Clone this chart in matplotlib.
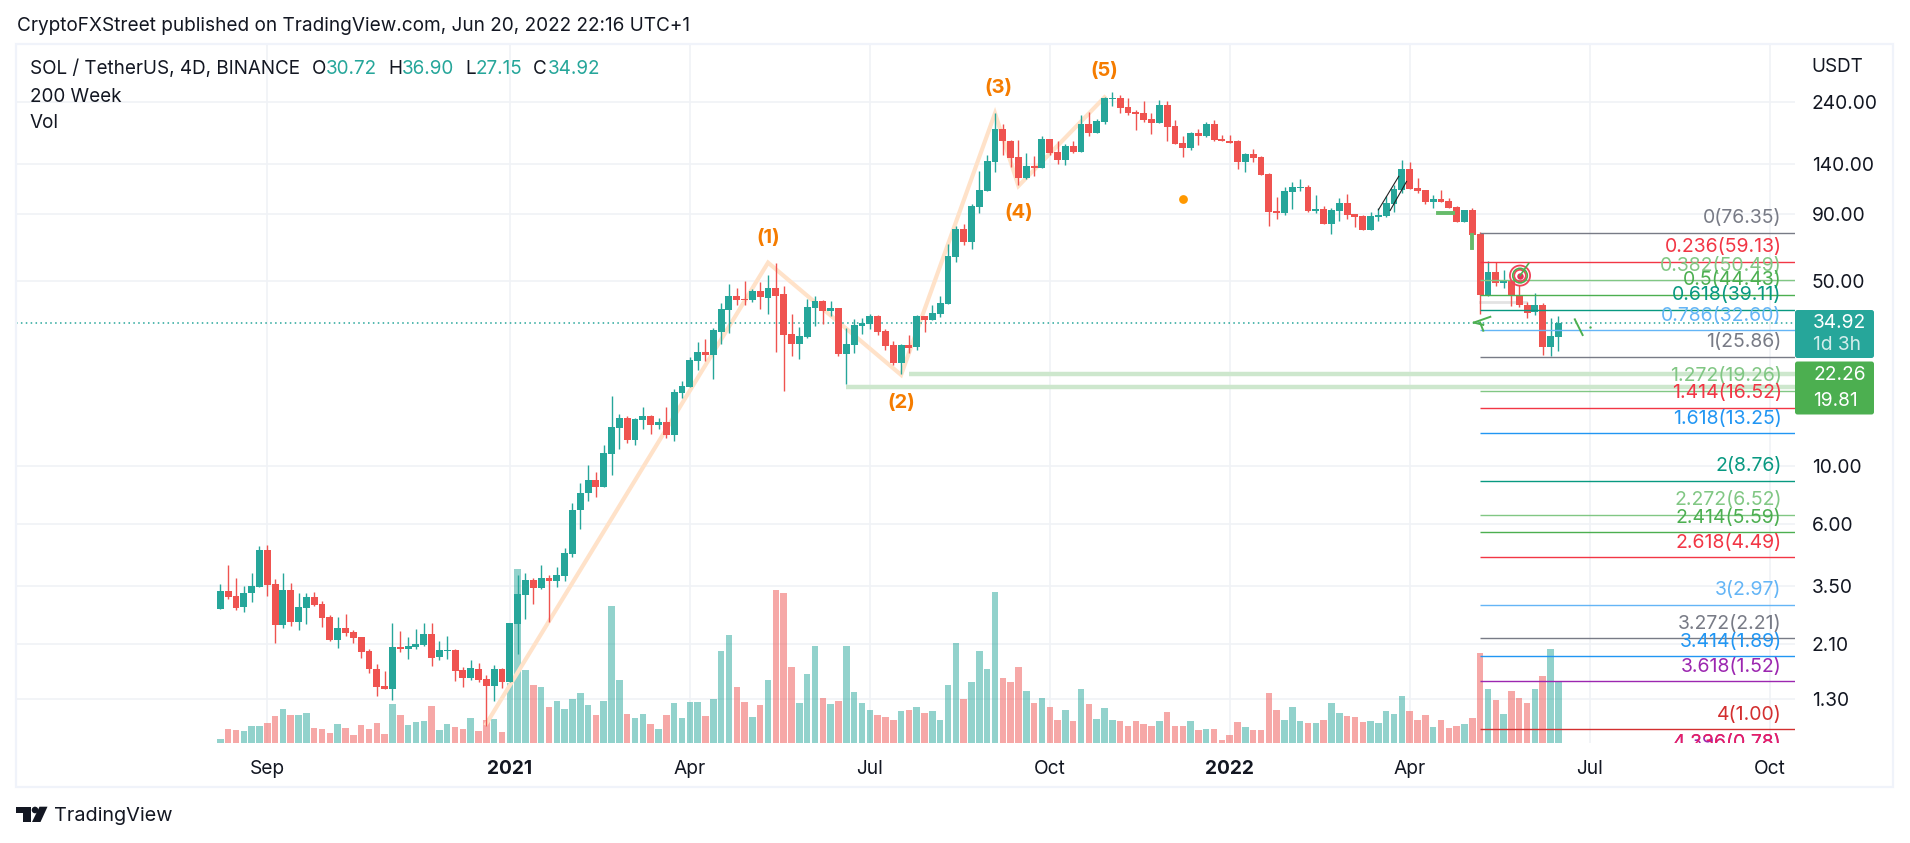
import numpy as np
import matplotlib.pyplot as plt
from matplotlib.patches import Rectangle, Circle, Polygon, FancyBboxPatch
from matplotlib.transforms import blended_transform_factory

plt.rcParams['font.family'] = ['Inter', 'DejaVu Sans']

# ---------------------------------------------------------
# Data (4D candles, oldest first)
# ---------------------------------------------------------
opens = [2.87, 3.35, 3.21, 2.92, 3.29, 3.47, 4.79, 3.57, 2.49, 3.38,
         2.55, 2.89, 3.18, 2.99, 2.67, 2.18, 2.42, 2.34, 2.24, 1.98,
         1.69, 1.46, 1.42, 2.05, 2.02, 2.05, 2.09, 2.30, 1.88, 1.98,
         2.00, 1.68, 1.57, 1.69, 1.55, 1.46, 1.69, 1.51, 2.51, 3.24,
         3.69, 3.44, 3.75, 3.66, 3.80, 4.62, 6.76, 7.85, 8.84, 8.30,
         11.1, 13.9, 15.2, 12.5, 14.9, 15.4, 14.3, 14.6, 13.1, 18.9,
         19.8, 25.0, 27.0, 26.3, 32.2, 38.9, 43.9, 42.9, 42.5, 46.0,
         43.2, 47.2, 44.6, 31.6, 29.0, 30.8, 39.6, 42.2, 38.6, 39.6,
         26.5, 28.8, 33.9, 34.5, 37.0, 32.4, 28.7, 24.6, 28.7, 28.2,
         37.0, 35.7, 37.6, 41.1, 62.0, 79.0, 70.6, 96.0, 110.4, 142.0,
         189.5, 170, 148.4, 123.4, 137.2, 135, 173.6, 155, 144.5, 163,
         155, 197.7, 183, 201, 246, 247.6, 229, 219, 217, 206.7,
         199.5, 233.5, 194, 168, 161, 183, 178, 197.7, 173.6, 170,
         169.8, 142, 152.2, 148.4, 128, 92.6, 91, 109.3, 113, 113.9,
         92.6, 94.2, 82.7, 92.6, 99.2, 90.2, 88.7, 78.4, 87.9, 88.7,
         98.4, 111.2, 133.6, 113, 111.2, 100.2, 102.8, 101, 95.8, 84.2,
         93.3, 75.9, 44.4, 54.4, 49.3, 50, 44.4, 40.7, 38.4, 40.7, 28.3, 30.72]
highs = [3.57, 4.20, 3.75, 3.51, 3.91, 4.97, 5.01, 3.72, 3.91, 3.60,
         3.29, 3.29, 3.32, 3.07, 2.71, 2.67, 2.74, 2.38, 2.24, 2.02,
         1.77, 1.66, 2.53, 2.36, 2.24, 2.40, 2.53, 2.53, 2.16, 2.26,
         2.02, 1.73, 1.83, 1.78, 1.60, 1.75, 1.71, 2.53, 3.84, 3.91,
         3.75, 4.20, 3.84, 4.13, 4.88, 7.22, 8.58, 10.07, 9.48, 12.0,
         18.4, 15.7, 15.4, 15.2, 16.7, 15.6, 15.2, 16.7, 19.6, 21.0,
         25.8, 29.4, 30.3, 33.2, 41.5, 48.9, 47.2, 50.2, 46.7, 49.8,
         52.8, 58.9, 48.0, 37.6, 33.5, 42.9, 44.2, 42.5, 42.1, 39.6,
         33.2, 36.0, 36.3, 37.5, 37.4, 33.1, 29.6, 28.9, 31.3, 37.4,
         37.0, 40.7, 44.0, 69.2, 81.1, 82.7, 98.5, 131.2, 150.7, 217,
         197.7, 172, 172, 153.6, 150, 178.7, 173.6, 169.8, 166.5, 169.8,
         214.4, 219.4, 207, 250, 261, 255, 247.6, 223.6, 241.5, 217,
         244, 241, 204.9, 178.7, 184.5, 189.5, 201, 204.9, 180, 180,
         172, 153.6, 159, 149.7, 129, 104.7, 113.9, 119.2, 122.4, 115.9,
         106.5, 96.8, 95, 103.7, 107.4, 90.2, 89.5, 91.8, 95, 105.6,
         115.9, 144.5, 142, 123.9, 111.2, 106.5, 111.2, 103.7, 96.6, 93.3,
         95, 77, 59.8, 59.1, 55.3, 50, 48.4, 41.9, 45.1, 41.4, 36.4, 36.90]
lows = [2.87, 3.13, 2.84, 2.79, 3.05, 3.47, 3.21, 2.13, 2.42, 2.47,
        2.38, 2.51, 2.94, 2.45, 2.16, 2.04, 2.26, 2.13, 1.86, 1.63,
        1.34, 1.42, 1.29, 1.96, 1.85, 2.02, 2.07, 1.74, 1.83, 1.85,
        1.53, 1.45, 1.54, 1.51, 1.03, 1.28, 1.44, 1.51, 1.93, 2.62,
        2.99, 3.41, 2.55, 3.47, 3.66, 4.51, 5.76, 7.37, 7.63, 8.30,
        9.24, 11.6, 12.2, 12.0, 13.8, 13.2, 13.8, 12.7, 12.4, 18.1,
        19.8, 23.1, 25.0, 21.3, 29.0, 31.8, 40.7, 40.7, 41.8, 39.2,
        37.6, 26.9, 19.2, 26.0, 25.4, 30.5, 33.9, 34.6, 36.9, 26.0,
        20.4, 26.7, 31.6, 33.0, 31.2, 27.4, 24.1, 22.3, 26.8, 27.4,
        32.2, 35.7, 36.6, 41.1, 59.3, 68.7, 66.5, 91, 110.4, 129.5,
        151, 135.8, 116, 122.4, 126, 135, 150.7, 140, 138.2, 153.6,
        155, 178, 183, 197.7, 231.5, 217, 214, 187.8, 201, 181,
        199.5, 169.8, 166.5, 148.4, 157.7, 164, 176, 169.8, 169.8, 168,
        133.6, 130, 142, 127, 81.1, 86.4, 89.5, 94.2, 110.2, 91.8,
        91, 82.7, 75.6, 84.9, 86.4, 80.5, 78.4, 78.4, 84.9, 87.9,
        92, 108, 112.2, 108.5, 98.5, 95, 100.2, 95, 83.7, 83.7,
        75, 37.7, 44.1, 48.2, 47, 40.5, 40, 36.4, 37.2, 26.4, 26, 27.15]
closes = [3.35, 3.18, 2.89, 3.29, 3.51, 4.79, 3.54, 2.49, 3.38, 2.55,
          2.92, 3.18, 2.97, 2.64, 2.18, 2.42, 2.32, 2.22, 1.96, 1.69,
          1.45, 1.42, 2.05, 2.02, 2.07, 2.11, 2.30, 1.86, 2.00, 2.00,
          1.66, 1.57, 1.71, 1.54, 1.46, 1.69, 1.51, 2.53, 3.27, 3.69,
          3.44, 3.75, 3.66, 3.84, 4.67, 6.79, 7.90, 8.84, 8.30, 11.2,
          14.0, 15.2, 12.5, 15.0, 15.4, 14.3, 14.6, 13.1, 19.0, 20.0,
          25.2, 27.0, 26.3, 32.7, 39.2, 43.9, 42.5, 42.5, 46.0, 43.5,
          47.2, 44.2, 31.2, 29.0, 31.0, 40.0, 42.2, 38.6, 39.6, 26.5,
          29.0, 34.2, 34.8, 37.0, 32.2, 28.4, 24.6, 28.7, 28.0, 37.0,
          35.7, 38.0, 41.5, 62.4, 79, 70.6, 96.8, 111.2, 143.3, 189.5,
          169.8, 147, 123.4, 137.2, 135, 173.6, 153.6, 144.5, 163, 155,
          197.7, 183, 203, 247.6, 247.6, 226.7, 217, 215, 204.9, 199.5,
          233.5, 192, 166.5, 161, 183, 178, 197.7, 172, 169.8, 168,
          142, 152.2, 147, 127, 91.8, 91, 110.2, 113.9, 113.9, 92.6,
          94.2, 82.7, 93.4, 99.2, 89.5, 87.9, 78.4, 88.7, 89.5, 99.2,
          112.2, 133.6, 112.2, 110.4, 100.2, 102.8, 100.2, 95, 84.2, 93.3,
          75, 44.4, 54.4, 49.3, 50, 44.1, 40.7, 38.1, 40.7, 28.3, 31.1, 34.92]
# volume in arbitrary units, the axis has no scale
volumes = [12, 42, 39, 36, 51, 51, 60, 81, 102, 84,
           84, 90, 45, 42, 30, 57, 45, 24, 54, 42,
           60, 27, 117, 84, 54, 63, 66, 111, 39, 57,
           48, 42, 75, 36, 69, 72, 33, 180, 522, 219,
           174, 168, 108, 126, 102, 132, 150, 114, 84, 126,
           411, 189, 87, 75, 87, 57, 42, 84, 120, 75,
           123, 123, 81, 132, 276, 324, 168, 123, 78, 114,
           189, 459, 450, 228, 120, 207, 291, 135, 117, 126,
           291, 153, 120, 99, 84, 78, 69, 96, 99, 108,
           90, 96, 69, 174, 300, 132, 183, 276, 222, 453,
           195, 183, 228, 156, 120, 135, 108, 69, 99, 66,
           162, 117, 72, 105, 69, 66, 51, 66, 57, 51,
           66, 93, 51, 51, 66, 39, 42, 42, 9, 24,
           63, 48, 39, 39, 150, 99, 69, 108, 66, 60,
           60, 69, 120, 90, 81, 78, 63, 66, 60, 96,
           87, 141, 96, 69, 84, 48, 69, 45, 51, 57,
           75, 270, 162, 129, 87, 156, 135, 120, 162, 201, 282, 183]

price_ticks = [240, 140, 90, 50, 10, 6, 3.5, 2.1, 1.3]
price_tick_labels = ['240.00', '140.00', '90.00', '50.00', '10.00', '6.00', '3.50', '2.10', '1.30']
time_ticks = [6, 37, 60, 83, 106, 129, 152, 175, 198]
time_tick_labels = ['Sep', '2021', 'Apr', 'Jul', 'Oct', '2022', 'Apr', 'Jul', 'Oct']

# Fibonacci levels
fib_ratio = ['0', '0.236', '0.382', '0.5', '0.618', '0.786', '1', '1.272', '1.414', '1.618',
             '2', '2.272', '2.414', '2.618', '3', '3.272', '3.414', '3.618', '4', '4.396', '4.236']
fib_price = [76.35, 59.13, 50.49, 44.43, 39.11, 32.60, 25.86, 19.26, 16.52, 13.25,
             8.76, 6.52, 5.59, 4.49, 2.97, 2.21, 1.89, 1.52, 1.00, 0.78, 0.78]
fib_text = ['76.35', '59.13', '50.49', '44.43', '39.11', '32.60', '25.86', '19.26', '16.52', '13.25',
            '8.76', '6.52', '5.59', '4.49', '2.97', '2.21', '1.89', '1.52', '1.00', '0.78', '0.78']
fib_color = ['#787b86', '#f23645', '#81c784', '#4caf50', '#089981', '#64b5f6', '#787b86', '#81c784',
             '#f23645', '#2196f3', '#089981', '#81c784', '#4caf50', '#f23645', '#64b5f6', '#787b86',
             '#2196f3', '#9c27b0', '#d32f2f', '#9c27b0', '#e91e63']
fib_start = 161

# Elliott wave drawing
wave_bars = [34, 70, 87, 99, 102, 113]
wave_prices = [1.05, 58.9, 22.1, 217, 115.1, 249.7]
wave_labels = ['(1)', '(2)', '(3)', '(4)', '(5)']
wave_label_bars = [70, 87, 99.4, 102, 113]
wave_label_prices = [73.2, 17.33, 271.5, 90.6, 315]

levels = [22.26, 19.81]
level_starts = [88, 80]

last_close = 34.92

# ---------------------------------------------------------
# Layout, everything is placed on a 1910x843 pixel canvas
# ---------------------------------------------------------
W, H = 1910, 843
fig = plt.figure(figsize=(W / 100, H / 100), dpi=100, facecolor='white')
pane_l, pane_r, pane_t, pane_b = 16, 1795, 44, 743
ax = fig.add_axes([pane_l / W, 1 - pane_b / H, (pane_r - pane_l) / W, (pane_b - pane_t) / H])
ax.set_autoscale_on(False)

color_up = '#26a69a'
color_down = '#ef5350'
text_color = '#131722'
grid_color = '#f0f2f6'

bars = np.arange(len(opens))
o = np.array(opens)
c = np.array(closes)
is_up = c >= o
candle_colors = np.where(is_up, color_up, color_down)

ax.set_yscale('log')
x_left, x_right = -26.11, 201.24
ax.set_xlim(x_left, x_right)
ax.set_ylim(0.887, 397.7)

# Volume, own scale on the same axes
vol_top = 2097
vol_trans = blended_transform_factory(ax.transData, ax.transAxes)
ax.bar(bars, np.array(volumes) / vol_top, width=0.83, bottom=0, color=candle_colors,
       alpha=0.5, transform=vol_trans, zorder=2, linewidth=0)

# Wave and support bands under the candles
ax.plot(wave_bars, wave_prices, color='#ffe2c9', lw=3.0, zorder=2.5, solid_joinstyle='miter')
for lev, start in zip(levels, level_starts):
    ax.hlines(lev, start, x_right, color='#cde7cd', lw=3.2, zorder=2.5)

# Last price line
ax.axhline(last_close, color=color_up, lw=1.1, ls=(0, (1, 2.2)), zorder=2.6)

# Candles
ax.vlines(bars, lows, highs, color=candle_colors, lw=1.0, zorder=3)
ax.bar(bars, np.abs(c - o), bottom=np.minimum(o, c), width=0.88, color=candle_colors, zorder=3.1, linewidth=0)

# Fib levels
for ratio, price, txt, col in zip(fib_ratio, fib_price, fib_text, fib_color):
    ax.hlines(price, fib_start, x_right, color=col, lw=1.0, zorder=4)
    ax.annotate(f'{ratio}({txt})', (x_right, price), xytext=(-9.6, 10.6), textcoords='offset points',
                ha='right', va='center', color=col, fontsize=14.0, annotation_clip=False,
                clip_on=True, zorder=5)

# Small drawings on the chart
ax.plot([148, 150.6], [93.4, 125.2], color='#222222', lw=0.8, zorder=3.2)
ax.plot([149.5, 151.6], [92.9, 119.7], color='#222222', lw=0.8, zorder=3.2)
ax.plot([155.6, 157.5], [90.6, 90.6], color='#66bb6a', lw=2.8, zorder=3.2)
ax.plot([159.9, 159.9], [75.0, 67.1], color='#66bb6a', lw=2.8, zorder=3.2)
ax.plot([161, 166.9], [41.9, 41.9], color='#e3e3e3', lw=2.0, zorder=2.8)
ax.scatter([166.1], [52.6], s=210, facecolors='none', edgecolors='#f0455a', linewidths=1.3, zorder=4.5)
ax.scatter([166.1], [52.6], s=70, facecolors='none', edgecolors='#f0455a', linewidths=1.3, zorder=4.5)
ax.scatter([166.1], [52.6], s=22, color='#e53258', linewidths=0, zorder=4.6)
ax.scatter([166.1], [52.6], s=110, marker='o', facecolors='none', edgecolors='#4caf50', linewidths=1.2, zorder=4.6)
ax.plot([166.1, 167.2], [52.6, 58.5], color='#4caf50', lw=1.2, zorder=4.6)
ax.plot([160.2, 162.3], [34.9, 36.7], color='#4caf50', lw=1.4, zorder=4.6)
ax.plot([160.2, 161.4], [34.9, 34.2], color='#4caf50', lw=1.4, zorder=4.6)
ax.plot([161.0, 161.4], [34.9, 32.5], color='#4caf50', lw=1.4, zorder=4.6)
ax.plot([173.1, 174.1], [35.9, 31.3], color='#4caf50', lw=1.4, zorder=4.6)
ax.scatter([175.1], [33.6], s=3, color='#4caf50', linewidths=0, zorder=4.6)
ax.scatter([123], [102.4], s=40, color='#ff9800', linewidths=0, zorder=4.6)

for lab, bx, py in zip(wave_labels, wave_label_bars, wave_label_prices):
    ax.text(bx, py, lab, color='#f57c00', fontsize=14.5, fontweight='bold', ha='center', va='center', zorder=5)

# Axes and ticks
ax.minorticks_off()
ax.yaxis.tick_right()
ax.set_yticks(price_ticks)
ax.set_yticklabels(price_tick_labels)
ax.set_xticks(time_ticks)
ax.set_xticklabels(time_tick_labels)
ax.minorticks_off()
ax.tick_params(axis='y', length=0, pad=12, labelsize=13.8, labelcolor=text_color)
ax.tick_params(axis='x', length=0, pad=12, labelsize=13.8, labelcolor=text_color)
for label in ax.get_xticklabels():
    if label.get_text() in ('2021', '2022'):
        label.set_fontweight('bold')
ax.grid(True, color=grid_color, lw=1.2, zorder=0)
ax.set_axisbelow(True)
for spine in ax.spines.values():
    spine.set_visible(False)

# ---------------------------------------------------------
# Overlay in pixels: frame, legend text, price tags, logo
# ---------------------------------------------------------
over = fig.add_axes([0, 0, 1, 1], facecolor='none')
over.set_xlim(0, W)
over.set_ylim(H, 0)
over.axis('off')

over.add_patch(Rectangle((16, 44), 1877, 743, fill=False, edgecolor='#f0f3fa', lw=1.6))

over.text(17, 26, 'CryptoFXStreet published on TradingView.com, Jun 20, 2022 22:16 UTC+1',
          fontsize=13.7, color=text_color, va='center')
legend_parts = [(30, 'SOL / TetherUS, 4D, BINANCE', text_color), (312, 'O', text_color), (326, '30.72', color_up),
                (388, 'H', text_color), (402, '36.90', color_up), (465, 'L', text_color), (476, '27.15', color_up),
                (533, 'C', text_color), (548, '34.92', color_up)]
for px, txt, col in legend_parts:
    over.text(px, 69, txt, fontsize=13.6, color=col, va='center')
over.text(30, 96.5, '200 Week', fontsize=13.6, color=text_color, va='center')
over.text(30, 123.5, 'Vol', fontsize=13.6, color=text_color, va='center')
over.text(1811, 66.5, 'USDT', fontsize=13.6, color=text_color, va='center')

# price tags
over.add_patch(FancyBboxPatch((1795, 310), 79, 48, boxstyle='round,pad=0,rounding_size=2.5',
                              facecolor=color_up, edgecolor='none'))
over.add_patch(FancyBboxPatch((1795, 361.5), 79, 53, boxstyle='round,pad=0,rounding_size=2.5',
                              facecolor='#4caf50', edgecolor='none'))
over.text(1813, 323, '34.92', color='white', fontsize=13.8, va='center')
over.text(1813, 345.5, '1d 3h', color='#d3edeb', fontsize=13.8, va='center')
over.text(1813, 374.5, '22.26', color='white', fontsize=13.8, va='center')
over.text(1813, 401.5, '19.81', color='white', fontsize=13.8, va='center')

# logo
over.add_patch(Polygon([(16, 806.7), (30.5, 806.7), (30.5, 822), (22.5, 822), (22.5, 813), (16, 813)],
                       facecolor=text_color, edgecolor='none'))
over.add_patch(Circle((35, 810), 3.3, facecolor=text_color, edgecolor='none'))
over.add_patch(Polygon([(39.5, 806.7), (47.5, 806.7), (40.5, 822), (32, 822)],
                       facecolor=text_color, edgecolor='none'))
over.text(54, 816, 'TradingView', fontsize=14.3, color=text_color, va='center')

fig.savefig('out.png', dpi=100)
